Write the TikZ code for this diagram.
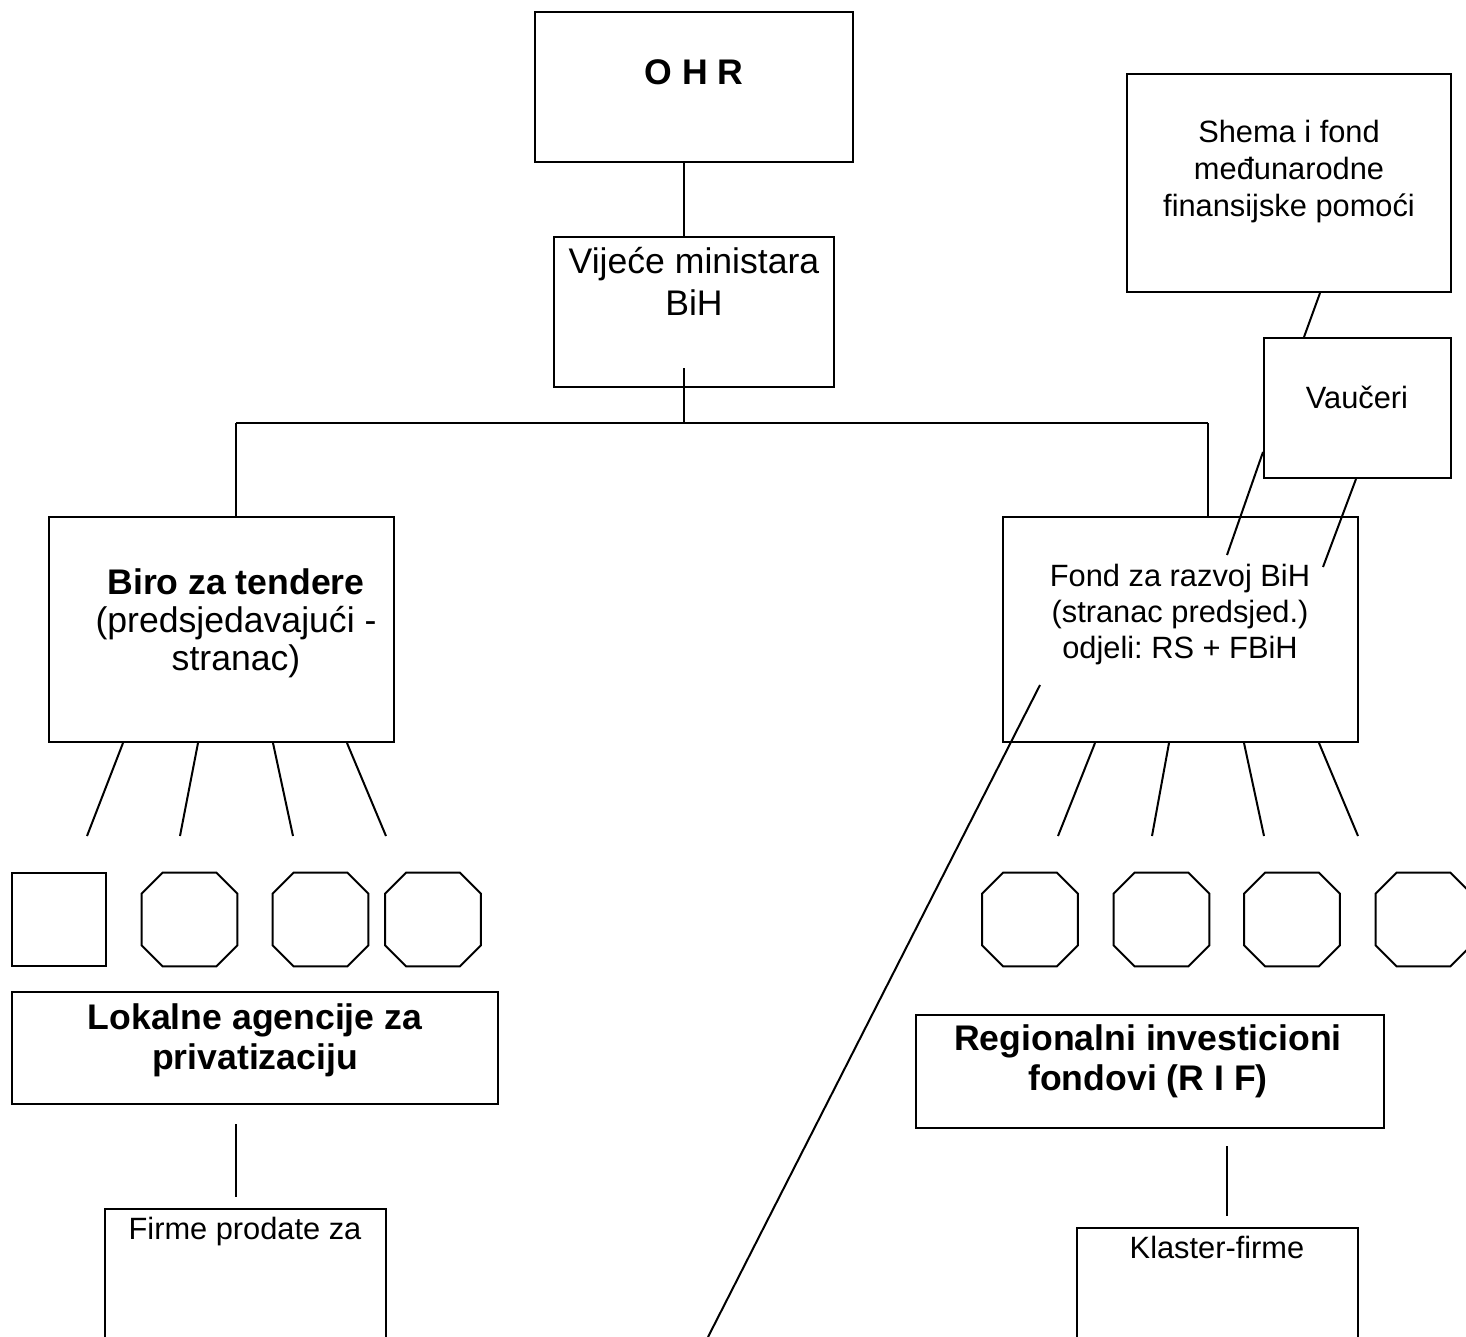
\documentclass[tikz,border=0pt]{standalone}
\usepackage{fontspec}
\setmainfont{Liberation Sans}
\frenchspacing
\newcommand\octdraw[1]{\draw[conn] ([xshift=10.5pt]#1.north west) -- ([xshift=-10.5pt]#1.north east) -- ([yshift=-10.5pt]#1.north east) -- ([yshift=10.5pt]#1.south east) -- ([xshift=-10.5pt]#1.south east) -- ([xshift=10.5pt]#1.south west) -- ([yshift=10.5pt]#1.south west) -- ([yshift=-10.5pt]#1.north west) -- cycle;}
\begin{document}
\begin{tikzpicture}[x=0.5pt,y=-0.5pt,
  box/.style={draw, line width=1pt, rectangle, inner sep=0pt},
  oct/.style={rectangle, minimum width=47.5pt, minimum height=46.5pt, inner sep=0pt},
  conn/.style={line width=1pt, line join=miter},
  lbl/.style={inner sep=0pt, anchor=base, align=center},
  bigf/.style={font=\fontsize{17.8}{#1}\selectfont},
  smallf/.style={font=\fontsize{15.4}{#1}\selectfont}]
\path[fill=white, use as bounding box] (0,0) rectangle (1466,1337);

% boxes
\node[box, minimum width=159pt, minimum height=75pt] (ohr) at (694,87) {};
\node[box, minimum width=140pt, minimum height=75pt] (vm) at (694,312) {};
\node[box, minimum width=162pt, minimum height=109pt] (shema) at (1289,183) {};
\node[box, minimum width=93.5pt, minimum height=70pt] (vau) at (1357.5,408) {};
\node[box, minimum width=172.5pt, minimum height=112.5pt] (biro) at (221.5,629.5) {};
\node[box, minimum width=177.5pt, minimum height=112.5pt] (fond) at (1180.5,629.5) {};
\node[box, minimum width=47pt, minimum height=46.5pt] (sq) at (59,919.5) {};
\node[oct] (ol1) at (189.5,919.5) {};
\node[oct] (ol2) at (320.5,919.5) {};
\node[oct] (ol3) at (433,919.5) {};
\node[oct] (or1) at (1030,919.5) {};
\node[oct] (or2) at (1161.5,919.5) {};
\node[oct] (or3) at (1292,919.5) {};
\node[oct] (or4) at (1423.5,919.5) {};
\octdraw{ol1}\octdraw{ol2}\octdraw{ol3}
\octdraw{or1}\octdraw{or2}\octdraw{or3}\octdraw{or4}
\node[box, minimum width=243pt, minimum height=56pt] (lok) at (255,1048) {};
\node[box, minimum width=140.5pt, minimum height=68pt] (firme) at (245.5,1277) {};
\node[box, minimum width=234pt, minimum height=56.5pt] (rif) at (1150,1071.5) {};
\node[box, minimum width=140.5pt, minimum height=58.5pt] (klaster) at (1217.5,1286.5) {};

% texts (anchor = baseline of last line)
\node[lbl, bigf=21pt] (ohrT) at (694,85) {\bfseries O H R};
\node[lbl, bigf=21pt] (vmT) at (694,315) {Vijeće ministara\\BiH};
\node[lbl, smallf=18.5pt] (shemaT) at (1289,217) {Shema i fond\\međunarodne\\finansijske pomoći};
\node[lbl, smallf=18pt] (vauT) at (1357,408) {Vaučeri};
\node[lbl, bigf=19pt] (biroT) at (236,670) {\textbf{Biro za tendere}\\(predsjedavajući -\\stranac)};
\node[lbl, smallf=18pt] (fondT) at (1180,658) {Fond za razvoj BiH\\(stranac predsjed.)\\odjeli: RS + FBiH};
\node[lbl, bigf=20pt] (lokT) at (255,1069) {\bfseries Lokalne agencije za\\\bfseries privatizaciju};
\node[lbl, bigf=20pt] (rifT) at (1148,1090) {\bfseries Regionalni investicioni\\\bfseries fondovi (R I F)};
\node[lbl, smallf=18pt] (firmeT) at (245,1239) {Firme prodate za};
\node[lbl, smallf=18pt] (klasterT) at (1217,1258) {Klaster-firme};

% junction and free-end coordinates
\coordinate (jc) at (684,423);
\coordinate (jl) at (236,423);
\coordinate (jr) at (1208,423);
\coordinate (bf1) at (87,836);
\coordinate (bf2) at (180,836);
\coordinate (bf3) at (293,836);
\coordinate (bf4) at (386,836);
\coordinate (ff1) at (1058,836);
\coordinate (ff2) at (1152,836);
\coordinate (ff3) at (1264,836);
\coordinate (ff4) at (1358,836);
\coordinate (va1) at (1227,555);
\coordinate (va2) at (1323,567);
\coordinate (lgA) at (1040,685);
\coordinate (lgB) at (708,1337);

% connectors
\draw[conn] ([xshift=-5pt]ohr.south) -- ([xshift=-5pt]vm.north);
\draw[conn] ([xshift=-5pt,yshift=10pt]vm.south) -- (jc);
\draw[conn] (jl) -- (jr);
\draw[conn] (jl) -- (jl |- biro.north);
\draw[conn] (jr) -- (jr |- fond.north);
\draw[conn] ([xshift=15.5pt]shema.south) -- ([xshift=-26.75pt]vau.north);
\draw[conn] ([yshift=-22pt]vau.west) -- (va1);
\draw[conn] ([xshift=-0.75pt]vau.south) -- (va2);
\draw[conn] (lgA) -- (lgB);
\draw[conn] ([xshift=37.5pt]biro.south west) -- (bf1);
\draw[conn] ([xshift=75pt]biro.south west) -- (bf2);
\draw[conn] ([xshift=112.5pt]biro.south west) -- (bf3);
\draw[conn] ([xshift=149.5pt]biro.south west) -- (bf4);
\draw[conn] ([xshift=46.5pt]fond.south west) -- (ff1);
\draw[conn] ([xshift=83.5pt]fond.south west) -- (ff2);
\draw[conn] ([xshift=121pt]fond.south west) -- (ff3);
\draw[conn] ([xshift=158.5pt]fond.south west) -- (ff4);
\draw[conn] ([xshift=-9.5pt,yshift=-9.5pt]lok.south) -- ([xshift=-4.75pt,yshift=5.5pt]firme.north);
\draw[conn] ([xshift=38.5pt,yshift=-8.5pt]rif.south) -- ([xshift=4.75pt,yshift=5.5pt]klaster.north);
\end{tikzpicture}
\end{document}
